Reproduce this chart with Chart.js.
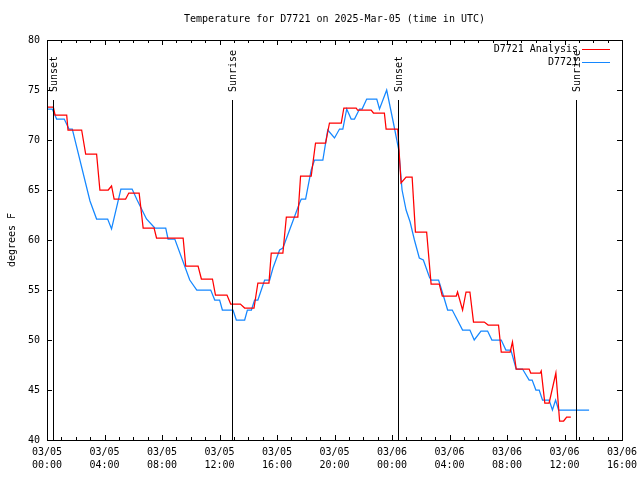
<!DOCTYPE html>
<html>
<head>
<meta charset="utf-8">
<script src="https://cdn.jsdelivr.net/npm/chart.js@4/dist/chart.umd.min.js"></script>
<style>
  html, body { margin: 0; padding: 0; background: #fff; }
  canvas { display: block; }
</style>
</head>
<body>
<canvas id="chart" width="640" height="480"></canvas>
<script>
// hours since 03/05 00:00 UTC
const analysisHours = [0, 0.44, 0.56, 1.37, 1.46, 2.41, 2.69, 3.45, 3.68, 4.26, 4.49, 4.67, 5.47, 5.69, 6.41, 6.69, 7.45, 7.62,
  9.47, 9.65, 10.51, 10.74, 11.51, 11.72, 12.52, 12.78, 13.45, 13.75, 14.40, 14.67, 15.44, 15.60, 16.41, 16.65, 17.45, 17.64,
  18.38, 18.68, 19.38, 19.65, 20.47, 20.65, 21.51, 21.60, 22.55, 22.71, 23.47, 23.59, 24.40, 24.63, 24.98, 25.40, 25.63, 26.41,
  26.72, 27.29, 27.50, 28.47, 28.56, 28.91, 29.15, 29.42, 29.67, 30.42, 30.69, 31.41, 31.60, 32.22, 32.38, 32.64, 33.54, 33.65,
  34.31, 34.38, 34.63, 34.93, 35.40, 35.66, 35.94, 36.15, 36.44];
const analysisTemps = [73.3, 73.3, 72.5, 72.5, 71.0, 71.0, 68.6, 68.6, 65.0, 65.0, 65.4, 64.1, 64.1, 64.7, 64.7, 61.2, 61.2, 60.2,
  60.2, 57.4, 57.4, 56.1, 56.1, 54.5, 54.5, 53.6, 53.6, 53.2, 53.2, 55.7, 55.7, 58.7, 58.7, 62.3, 62.3, 66.4,
  66.4, 69.7, 69.7, 71.7, 71.7, 73.2, 73.2, 73.0, 73.0, 72.7, 72.7, 71.1, 71.1, 65.7, 66.3, 66.3, 60.8, 60.8,
  55.6, 55.6, 54.4, 54.4, 54.8, 53.0, 54.8, 54.8, 51.8, 51.8, 51.5, 51.5, 48.8, 48.8, 49.8, 47.1, 47.1, 46.7,
  46.7, 46.9, 43.7, 43.7, 46.7, 41.9, 41.9, 42.3, 42.3];

const obsHours = [0, 0.37, 0.67, 1.20, 1.53, 1.76, 2.99, 3.45, 4.22, 4.49, 5.14, 5.92, 6.27, 6.92, 7.50, 8.26, 8.42, 8.89,
  9.93, 10.42, 11.39, 11.67, 12.01, 12.20, 12.94, 13.17, 13.75, 13.94, 14.22, 14.44, 14.67, 15.14, 15.49, 15.72, 16.18, 16.41,
  17.57, 17.69, 17.99, 18.38, 18.61, 19.19, 19.53, 20.00, 20.35, 20.58, 20.85, 21.16, 21.39, 21.74, 21.92, 22.24, 22.94, 23.13,
  23.63, 24.10, 24.47, 24.70, 24.98, 25.26, 25.56, 25.90, 26.18, 26.60, 26.72, 27.24, 27.52, 27.87, 28.19, 28.91, 29.42, 29.72,
  30.19, 30.65, 30.95, 31.60, 31.92, 32.27, 32.64, 33.08, 33.54, 33.75, 34.01, 34.24, 34.47, 34.93, 35.16, 35.38, 35.59, 37.71];
const obsTemps = [73.1, 73.1, 72.1, 72.1, 71.1, 71.1, 63.9, 62.1, 62.1, 61.1, 65.1, 65.1, 64.0, 62.1, 61.2, 61.2, 60.1, 60.1,
  56.0, 55.0, 55.0, 54.0, 54.0, 53.0, 53.0, 52.0, 52.0, 53.0, 53.0, 54.0, 54.0, 56.0, 56.0, 57.2, 59.0, 59.2,
  63.7, 64.1, 64.1, 67.0, 68.0, 68.0, 71.0, 70.2, 71.1, 71.1, 73.1, 72.1, 72.1, 73.1, 73.1, 74.1, 74.1, 73.1,
  75.0, 71.7, 69.0, 65.0, 63.0, 61.8, 60.0, 58.2, 58.0, 56.3, 56.0, 56.0, 54.7, 53.0, 53.0, 51.0, 51.0, 50.0,
  50.9, 50.9, 50.0, 50.0, 49.0, 49.0, 47.1, 47.1, 46.0, 46.0, 45.0, 45.0, 44.0, 44.0, 43.0, 44.0, 43.0, 43.0];

const sunHours = [0.44, 12.87, 24.40, 36.82];
const sunLabels = ['Sunset', 'Sunrise', 'Sunset', 'Sunrise'];

const xTickHours = [0, 4, 8, 12, 16, 20, 24, 28, 32, 36, 40];
const xTickDates = ['03/05', '03/05', '03/05', '03/05', '03/05', '03/05', '03/06', '03/06', '03/06', '03/06', '03/06'];
const xTickTimes = ['00:00', '04:00', '08:00', '12:00', '16:00', '20:00', '00:00', '04:00', '08:00', '12:00', '16:00'];
const yTicks = [40, 45, 50, 55, 60, 65, 70, 75, 80];

const seriesNames = ['D7721 Analysis', 'D7721'];
const seriesColors = ['#ff0000', '#1487ff'];

const FONT = "10px 'DejaVu Sans Mono', monospace";

// title, legend, axis label, inward ticks, frame and the sun lines
const gnuplotLook = {
  id: 'gnuplotLook',
  afterDatasetsDraw(chart) {
    const { ctx, chartArea: a } = chart;
    const xs = chart.scales.x;
    ctx.save();
    ctx.strokeStyle = '#000';
    ctx.fillStyle = '#000';
    ctx.lineWidth = 1;
    ctx.font = FONT;
    sunHours.forEach((h, i) => {
      const px = Math.round(xs.getPixelForValue(h)) + 0.5;
      ctx.beginPath();
      ctx.moveTo(px, 100);
      ctx.lineTo(px, a.bottom);
      ctx.stroke();
      ctx.save();
      ctx.translate(px + 1, 92);
      ctx.rotate(-Math.PI / 2);
      ctx.textAlign = 'left';
      ctx.textBaseline = 'middle';
      ctx.fillText(sunLabels[i], 0, 0);
      ctx.restore();
    });
    ctx.restore();
  },
  afterDraw(chart) {
    const { ctx, chartArea: a } = chart;
    const xs = chart.scales.x, ys = chart.scales.y;
    ctx.save();
    ctx.strokeStyle = '#000';
    ctx.fillStyle = '#000';
    ctx.lineWidth = 1;
    ctx.font = FONT;

    // frame
    ctx.strokeRect(a.left + 0.5, a.top + 0.5, a.right - a.left, a.bottom - a.top);

    // y ticks, both sides
    yTicks.forEach(v => {
      const py = Math.round(ys.getPixelForValue(v)) + 0.5;
      ctx.beginPath();
      ctx.moveTo(a.left, py); ctx.lineTo(a.left + 5, py);
      ctx.moveTo(a.right, py); ctx.lineTo(a.right - 5, py);
      ctx.stroke();
    });

    // x ticks: major every 4 h, minor every hour
    for (let h = 0; h <= 40; h++) {
      const len = xTickHours.includes(h) ? 5 : 3;
      const px = Math.round(xs.getPixelForValue(h)) + 0.5;
      ctx.beginPath();
      ctx.moveTo(px, a.bottom); ctx.lineTo(px, a.bottom - len);
      ctx.moveTo(px, a.top); ctx.lineTo(px, a.top + len);
      ctx.stroke();
    }

    // title
    ctx.textAlign = 'center';
    ctx.textBaseline = 'middle';
    ctx.fillText('Temperature for D7721 on 2025-Mar-05 (time in UTC)', (a.left + a.right) / 2, 19);

    // y axis label
    ctx.save();
    ctx.translate(12, 240);
    ctx.rotate(-Math.PI / 2);
    ctx.fillText('degrees F', 0, 0);
    ctx.restore();

    // legend
    seriesNames.forEach((name, i) => {
      const y = 49 + i * 13;
      ctx.textAlign = 'right';
      ctx.fillStyle = '#000';
      ctx.fillText(name, 578, y);
      ctx.strokeStyle = seriesColors[i];
      ctx.beginPath();
      ctx.moveTo(582, y + 0.5);
      ctx.lineTo(610, y + 0.5);
      ctx.stroke();
    });
    ctx.restore();
  }
};

const toPoints = (hs, ts) => hs.map((h, i) => ({ x: h, y: ts[i] }));

new Chart(document.getElementById('chart'), {
  type: 'line',
  data: {
    datasets: [
      {
        label: seriesNames[0],
        data: toPoints(analysisHours, analysisTemps),
        borderColor: seriesColors[0],
        borderWidth: 1.25,
        pointRadius: 0,
        tension: 0
      },
      {
        label: seriesNames[1],
        data: toPoints(obsHours, obsTemps),
        borderColor: seriesColors[1],
        borderWidth: 1.25,
        pointRadius: 0,
        tension: 0
      }
    ]
  },
  options: {
    responsive: false,
    animation: false,
    devicePixelRatio: 1,
    layout: { padding: { top: 40, right: 18, left: 0, bottom: 0 } },
    plugins: {
      legend: { display: false },
      title: { display: false },
      tooltip: { enabled: false }
    },
    scales: {
      x: {
        type: 'linear',
        min: 0,
        max: 40,
        afterBuildTicks: s => { s.ticks = xTickHours.map(v => ({ value: v })); },
        afterFit: s => { s.height = 40; s.paddingLeft = 0; s.paddingRight = 0; },
        grid: { display: false, drawTicks: false },
        border: { display: false },
        ticks: {
          autoSkip: false,
          maxRotation: 0,
          padding: 6,
          color: '#000',
          font: { family: "'DejaVu Sans Mono', monospace", size: 10, lineHeight: 1.3 },
          callback: (v, i) => [xTickDates[i], xTickTimes[i]]
        }
      },
      y: {
        min: 40,
        max: 80,
        afterBuildTicks: s => { s.ticks = yTicks.map(v => ({ value: v })); },
        afterFit: s => { s.width = 47; s.paddingTop = 0; s.paddingBottom = 0; },
        grid: { display: false, drawTicks: false },
        border: { display: false },
        ticks: {
          padding: 7,
          color: '#000',
          font: { family: "'DejaVu Sans Mono', monospace", size: 10 }
        }
      }
    }
  },
  plugins: [gnuplotLook]
});
</script>
</body>
</html>
